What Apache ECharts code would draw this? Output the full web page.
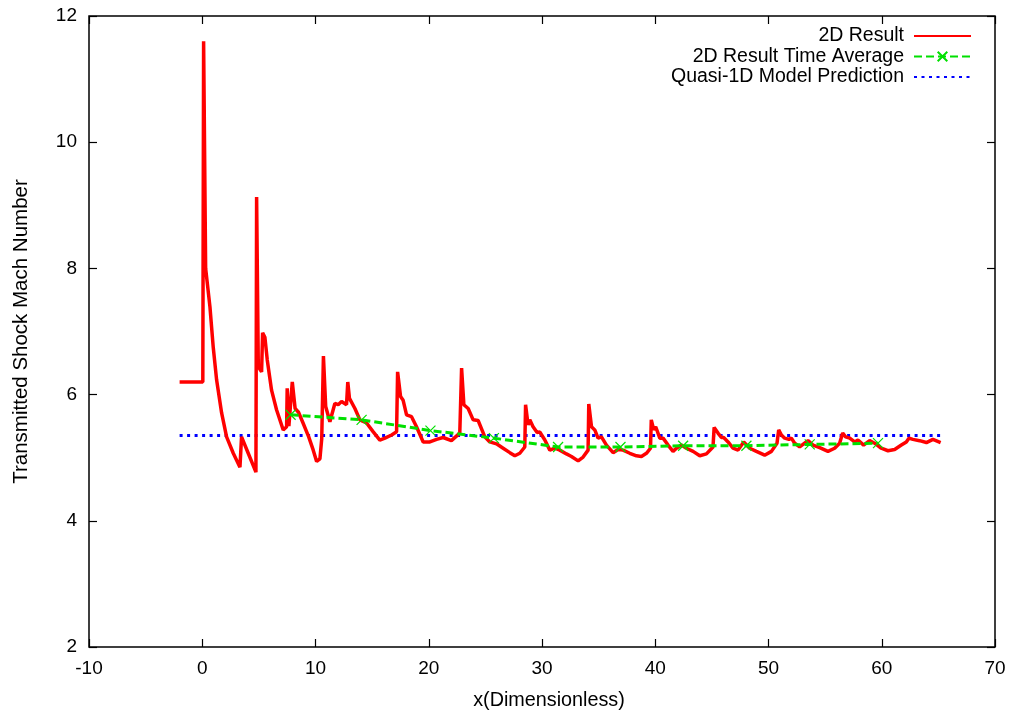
<!DOCTYPE html>
<html><head><meta charset="utf-8">
<script src="https://cdn.jsdelivr.net/npm/echarts@6/dist/echarts.min.js"></script>
<style>html,body{margin:0;padding:0;background:#fff}#c{width:1013px;height:717px}</style>
</head><body><div id="c"></div>
<script>
const xTicks = [-10, 0, 10, 20, 30, 40, 50, 60, 70];
const yTicks = [2, 4, 6, 8, 10, 12];
const seriesNames = ['2D Result', '2D Result Time Average', 'Quasi-1D Model Prediction'];

const redX = [-2,0.05,0.12,0.3,0.44,0.68,0.97,1.27,1.71,2.15,2.74,3.33,3.47,4.06,4.74,4.8,4.95,5.24,5.33,5.53,5.74,6.12,6.56,7.15,7.45,7.5,7.65,7.95,8.2,8.5,8.9,9.4,9.8,10.1,10.39,10.55,10.7,10.9,11.27,11.56,11.71,12.0,12.3,12.74,12.85,13.0,13.48,13.92,14.51,15.1,15.68,16.13,16.72,17.16,17.25,17.51,17.74,18.04,18.48,18.92,19.51,20.1,20.69,21.27,22.0,22.74,22.9,23.1,23.48,23.63,23.92,24.36,24.95,25.39,25.98,26.57,27.16,27.6,28.04,28.48,28.55,28.77,28.92,29.21,29.57,29.8,30.25,30.69,31.13,31.57,32.16,32.6,33.19,33.63,34.07,34.13,34.37,34.66,34.95,35.25,35.69,36.28,36.72,37.16,37.75,38.34,38.78,39.22,39.58,39.65,39.87,40.04,40.4,40.69,41.13,41.57,41.87,42.31,42.75,43.34,43.93,44.52,45.1,45.2,45.54,45.84,46.04,46.43,46.87,47.31,47.81,48.34,48.93,49.66,50.26,50.75,50.9,51.14,51.43,51.81,52.02,52.31,52.75,53.19,53.49,53.93,54.52,55.25,55.84,56.28,56.55,56.81,57.17,57.61,57.9,58.4,58.93,59.37,59.96,60.55,61.14,61.73,62.17,62.4,62.75,63.34,63.94,64.52,65.2];
const redY = [6.2,6.2,11.6,8.0,8.0,7.39,6.75,6.23,5.71,5.33,5.07,4.85,5.33,5.07,4.77,9.13,6.44,6.36,6.98,6.91,6.55,6.07,5.76,5.44,5.49,6.1,5.5,6.2,5.78,5.72,5.55,5.33,5.12,4.94,4.98,5.3,6.61,5.81,5.57,5.76,5.86,5.84,5.89,5.84,6.2,5.94,5.78,5.6,5.55,5.41,5.28,5.31,5.36,5.41,6.36,5.97,5.91,5.68,5.65,5.49,5.25,5.25,5.29,5.32,5.27,5.39,6.42,5.84,5.78,5.76,5.6,5.59,5.33,5.25,5.22,5.15,5.08,5.03,5.07,5.17,5.84,5.52,5.6,5.49,5.4,5.41,5.28,5.12,5.15,5.12,5.06,5.02,4.95,5.01,5.12,5.85,5.49,5.44,5.31,5.33,5.2,5.08,5.13,5.12,5.07,5.03,5.02,5.07,5.15,5.6,5.44,5.49,5.31,5.31,5.2,5.1,5.15,5.2,5.15,5.1,5.03,5.06,5.17,5.48,5.39,5.32,5.32,5.25,5.15,5.12,5.25,5.15,5.1,5.04,5.1,5.23,5.44,5.36,5.31,5.29,5.31,5.23,5.17,5.23,5.27,5.2,5.16,5.1,5.15,5.23,5.39,5.33,5.31,5.25,5.28,5.2,5.27,5.23,5.15,5.11,5.13,5.2,5.25,5.31,5.29,5.27,5.24,5.29,5.24];

const avgX = [7.8,14.07,20.15,25.75,31.42,36.93,42.46,48.05,53.64,59.67];
const avgY = [5.68,5.6,5.43,5.31,5.17,5.17,5.19,5.19,5.21,5.23];

const modelX = [-2, 65.2];
const modelY = [5.35, 5.35];

const zip = (a, b) => a.map((v, i) => [v, b[i]]);
const font = 'Liberation Sans, Arial, sans-serif';

const chart = echarts.init(document.getElementById('c'));
const tickStyle = {show: true, inside: true, length: 8, lineStyle: {color: '#000', width: 1.2}};
const hiddenLine = {show: false, onZero: false};
chart.setOption({
  animation: false,
  grid: {left: 89, top: 16, width: 906, height: 631, show: true, borderColor: '#000', borderWidth: 1.5, backgroundColor: 'transparent'},
  legend: {
    orient: 'vertical', right: 36, top: 21, align: 'right',
    itemWidth: 57, itemHeight: 12, itemGap: 0.5,
    textStyle: {fontFamily: font, fontSize: 19.5, color: '#000', lineHeight: 19, padding: [0, 5, 0, 0]},
    data: [
      {name: seriesNames[0], itemStyle: {opacity: 0}},
      {name: seriesNames[1]},
      {name: seriesNames[2], itemStyle: {opacity: 0}}
    ]
  },
  xAxis: [{
    type: 'value', min: -10, max: 70, interval: 10,
    name: 'x(Dimensionless)', nameLocation: 'middle', nameGap: 44,
    nameTextStyle: {fontFamily: font, fontSize: 19.8, color: '#000', padding: [0, 0, 0, 14]},
    axisLine: hiddenLine, axisTick: tickStyle, splitLine: {show: false},
    axisLabel: {fontFamily: font, fontSize: 19, color: '#000', margin: 12,
      formatter: v => xTicks.includes(v) ? String(v) : ''}
  }, {
    type: 'value', min: -10, max: 70, interval: 10, position: 'top',
    axisLine: hiddenLine, axisTick: tickStyle, splitLine: {show: false}, axisLabel: {show: false}
  }],
  yAxis: [{
    type: 'value', min: 2, max: 12, interval: 2,
    name: 'Transmitted Shock Mach Number', nameLocation: 'middle', nameGap: 57,
    nameTextStyle: {fontFamily: font, fontSize: 20.5, color: '#000'},
    axisLine: hiddenLine, axisTick: tickStyle, splitLine: {show: false},
    axisLabel: {fontFamily: font, fontSize: 19, color: '#000', margin: 12,
      formatter: v => yTicks.includes(v) ? String(v) : ''}
  }, {
    type: 'value', min: 2, max: 12, interval: 2, position: 'right',
    axisLine: hiddenLine, axisTick: tickStyle, splitLine: {show: false}, axisLabel: {show: false}
  }],
  series: [{
    name: seriesNames[0], type: 'line', data: zip(redX, redY),
    showSymbol: false, symbol: 'none', z: 3,
    lineStyle: {color: '#ff0000', width: 3.5}, itemStyle: {color: '#ff0000'}
  }, {
    name: seriesNames[1], type: 'line', data: zip(avgX, avgY), z: 4,
    symbol: 'path://M0,0L10,10M10,0L0,10', symbolSize: 10, showSymbol: true,
    lineStyle: {color: '#00e000', width: 3, type: [8, 4]},
    itemStyle: {color: 'none', borderColor: '#00e000', borderWidth: 1.2}
  }, {
    name: seriesNames[2], type: 'line', data: zip(modelX, modelY), z: 2,
    showSymbol: false, symbol: 'none',
    lineStyle: {color: '#0000ff', width: 3, type: [3, 4.5]}, itemStyle: {color: '#0000ff'}
  }]
});
</script></body></html>
